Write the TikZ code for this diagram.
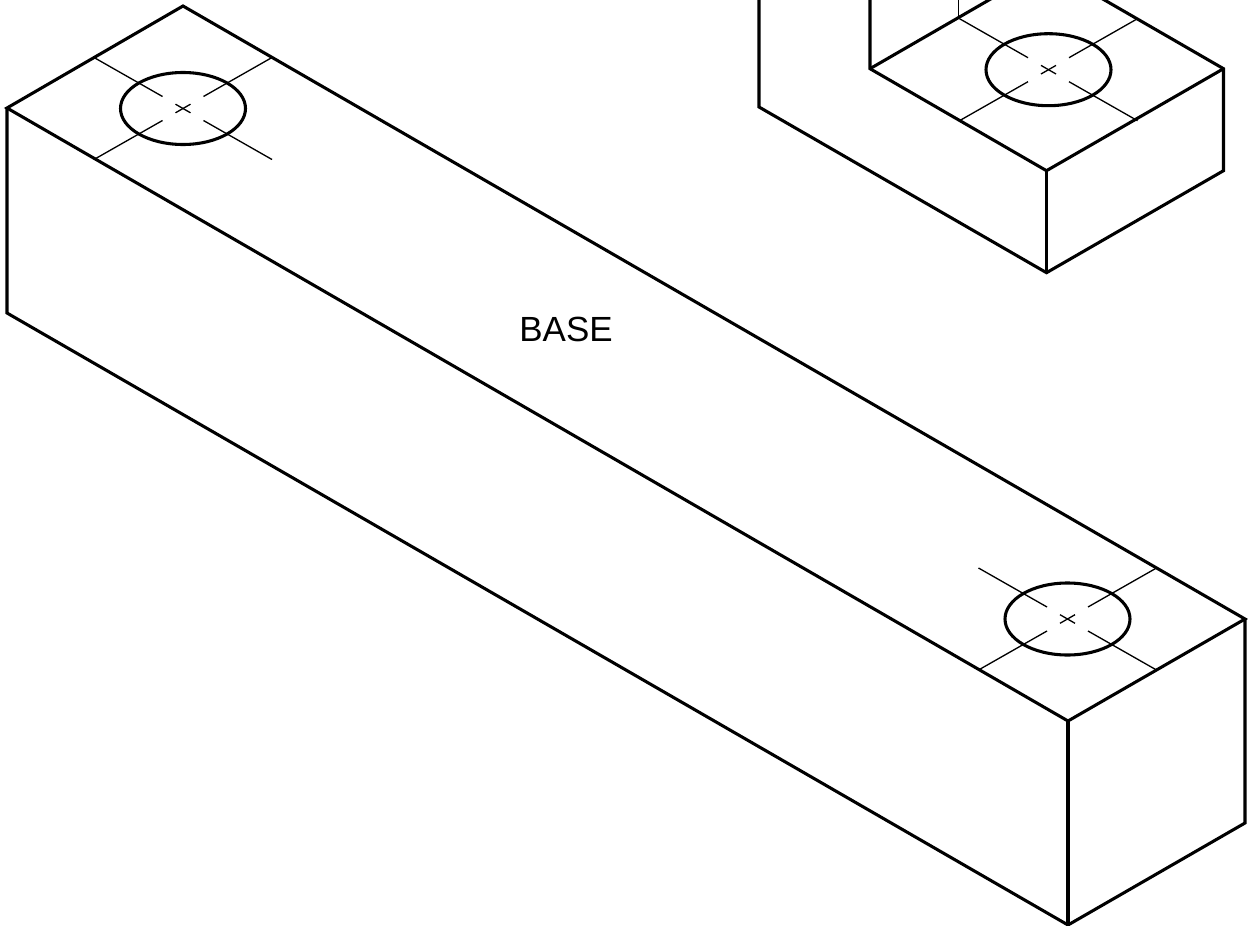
\documentclass[tikz,border=0pt]{standalone}
\usepackage{fontspec}
\setmainfont{Liberation Sans}
\tikzset{
    outline/.style={line width=1.75pt,line join=miter},
    centerline/.style={line width=0.75pt},
}
\newcommand{\holemark}[1]{%
    \draw[outline] (#1) ellipse (62.5 and 36);
    \draw[centerline] (#1) ++(-7.5,-4.3) -- ++(15,8.6);
    \draw[centerline] (#1) ++(-7.5,4.3) -- ++(15,-8.6);
    \draw[centerline] (#1) ++(20.5,-12) -- ++(68.5,-39);
    \draw[centerline] (#1) ++(-20.5,12) -- ++(-68.5,39);
    \draw[centerline] (#1) ++(20.5,12) -- ++(68.5,39);
    \draw[centerline] (#1) ++(-20.5,-12) -- ++(-68.5,-39);
}
\begin{document}
\begin{tikzpicture}[x=0.02cm,y=-0.02cm]
    \clip (0,0) rectangle (1248,926);
    %% base
    \draw[outline] (7,108) -- (183,6) -- (1245,619) -- (1068,721) -- cycle;
    \draw[outline] (7,108) -- (7,313) -- (1068,925) -- (1245,823) -- (1245,619);
    \draw[outline] (1068,721) -- (1068,925);
    \node[font=\fontsize{19.9}{24}\selectfont,inner sep=0pt] (baselabel) at (566,329.5) {BASE};
    %% upright block
    \draw[outline] (759,-10) -- (759,107) -- (1046.5,272.7) -- (1223.5,170.7) -- (1223.5,68.7) -- (1100,-2.6);
    \draw[outline] (870,-10) -- (870,68.7) -- (1046.5,170.7) -- (1223.5,68.7);
    \draw[outline] (870,68.7) -- (995,-3.5);
    \draw[outline] (1046.5,170.7) -- (1046.5,272.7);
    %% holes
    \coordinate (lefthole) at (183,108.5);
    \coordinate (righthole) at (1067.5,619);
    \coordinate (tophole) at (1048.5,69.7);
    \holemark{lefthole}
    \holemark{righthole}
    \holemark{tophole}
    \draw[centerline] (958.5,-5) -- (958.5,17.5);
\end{tikzpicture}
\end{document}
